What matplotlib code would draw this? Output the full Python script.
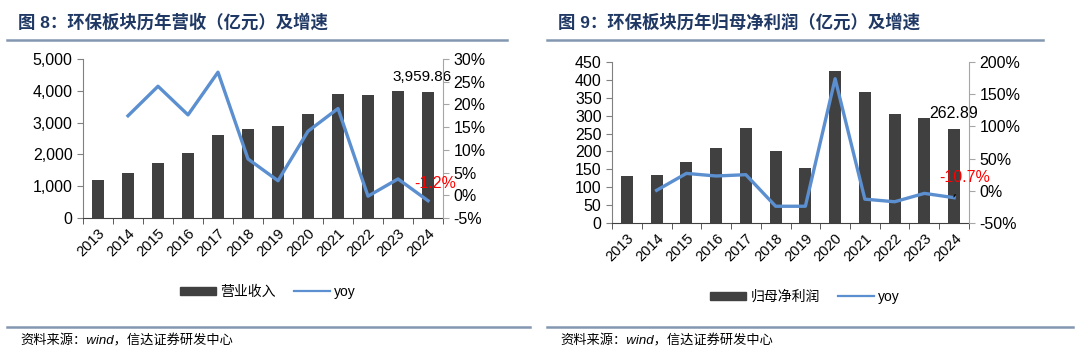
import numpy as np
import matplotlib
matplotlib.use("Agg")
import matplotlib.pyplot as plt
from matplotlib.lines import Line2D
from matplotlib.patches import Patch
from matplotlib.ticker import FuncFormatter

plt.rcParams['font.family'] = ['Liberation Sans', 'Noto Sans CJK SC', 'DejaVu Sans']

# 数据
years = [str(y) for y in range(2013, 2025)]
revenue = [1205, 1415, 1740, 2045, 2600, 2800, 2880, 3280, 3900, 3880, 4008, 3959.86]
revenue_yoy = [np.nan, 17.5, 24.0, 17.7, 27.1, 8.0, 3.2, 14.1, 19.1, -0.2, 3.6, -1.2]
profit = [131, 135, 171, 211, 265, 202, 155, 424, 367, 306, 294, 262.89]
profit_yoy = [np.nan, 0.7, 27, 23, 25, -24, -24, 174, -13, -17, -4, -10.7]

bar_color = '#404040'
line_color = '#5B8FD0'
title_color = '#1F3864'
rule_color = '#8497B0'
W, H = 1080, 355

fig = plt.figure(figsize=(W / 100, H / 100), dpi=100)


def px(x0, y0, x1, y1):
    return [x0 / W, 1 - y1 / H, (x1 - x0) / W, (y1 - y0) / H]


def panel(rect, bars, yoy, ylim, yticks, y2lim, y2ticks, fmt):
    ax = fig.add_axes(rect)
    x = np.arange(len(years))
    ax.bar(x, bars, width=0.4, color=bar_color, zorder=2)
    ax.set_xlim(-0.5, len(years) - 0.5)
    ax.set_ylim(*ylim)
    ax.set_yticks(yticks)
    ax.yaxis.set_major_formatter(FuncFormatter(fmt))
    ax.set_xticks(x)
    ax.set_xticklabels(years, rotation=45, ha='right', rotation_mode='anchor', fontsize=10.5)
    ax.set_xticks(np.arange(-0.5, len(years)), minor=True)
    ax.tick_params(axis='x', which='major', length=0, pad=6)
    ax.tick_params(axis='x', which='minor', length=4, color='#404040')
    ax.tick_params(axis='y', labelsize=11.5, length=4, color='#808080')
    for s in ['top', 'right']:
        ax.spines[s].set_visible(False)
    ax.spines['left'].set_color('#808080')
    ax.spines['bottom'].set_color('#404040')

    ax2 = ax.twinx()
    ax2.plot(x, yoy, color=line_color, lw=2.4, zorder=3)
    ax2.set_ylim(*y2lim)
    ax2.set_yticks(y2ticks)
    ax2.yaxis.set_major_formatter(FuncFormatter(lambda v, p: f'{v:.0f}%'))
    ax2.tick_params(axis='y', labelsize=11.5, length=4, color='#A6A6A6')
    for s in ['top', 'left', 'bottom']:
        ax2.spines[s].set_visible(False)
    ax2.spines['right'].set_color('#A6A6A6')

    handles = [Patch(color=bar_color), Line2D([], [], color=line_color, lw=1.6)]
    return ax, ax2, handles


legend_kw = dict(loc='center', ncol=2, frameon=False, fontsize=10, handlelength=2.6,
                 handleheight=0.55, handletextpad=0.3, columnspacing=1.3)

# 图8
ax, ax2, h = panel(px(83, 59, 443, 218), revenue, revenue_yoy, (0, 5000), range(0, 5001, 1000),
                   (-5, 30), range(-5, 31, 5), lambda v, p: f'{v:,.0f}')
ax.text(10.8, 4200, '3,959.86', ha='center', va='bottom', fontsize=11)
ax2.text(11.25, 2.7, '-1.2%', ha='center', va='center', fontsize=11.5, color='#FF0000')
fig.legend(h, ['营业收入', 'yoy'], bbox_to_anchor=(268 / W, 1 - 292 / H), **legend_kw)

# 图9
ax, ax2, h = panel(px(612, 62, 969, 223), profit, profit_yoy, (0, 450), range(0, 451, 50),
                   (-50, 200), range(-50, 201, 50), lambda v, p: f'{v:.0f}')
ax.text(11, 307, '262.89', ha='center', va='center', fontsize=11.5)
ax2.annotate('-10.7%', xy=(10.99, -9.6), xytext=(11.37, 21.4), ha='center', va='center',
             fontsize=11.5, color='#FF0000',
             arrowprops=dict(arrowstyle='-', color='black', lw=0.8, shrinkB=0, shrinkA=6))
fig.legend(h, ['归母净利润', 'yoy'], bbox_to_anchor=(805 / W, 1 - 297 / H), **legend_kw)

# 标题、分隔线和来源
for x0, x1, bx1, title in [(7, 507, 530, '图 8：环保板块历年营收（亿元）及增速'),
                           (547, 1043, 1073, '图 9：环保板块历年归母净利润（亿元）及增速')]:
    fig.text((x0 + 11) / W, 1 - 22 / H, title, fontsize=12.5, fontweight='bold',
             color=title_color, va='center')
    fig.add_artist(Line2D([x0 / W, x1 / W], [1 - 40 / H] * 2, color=rule_color, lw=1.8))
    fig.add_artist(Line2D([x0 / W, bx1 / W], [1 - 327 / H] * 2, color=rule_color, lw=1.8))
    fig.text((x0 + 13) / W, 1 - 341 / H, '资料来源：wind，信达证券研发中心', fontsize=9.5,
             style='italic', va='center')

fig.savefig('out.png', dpi=100)
